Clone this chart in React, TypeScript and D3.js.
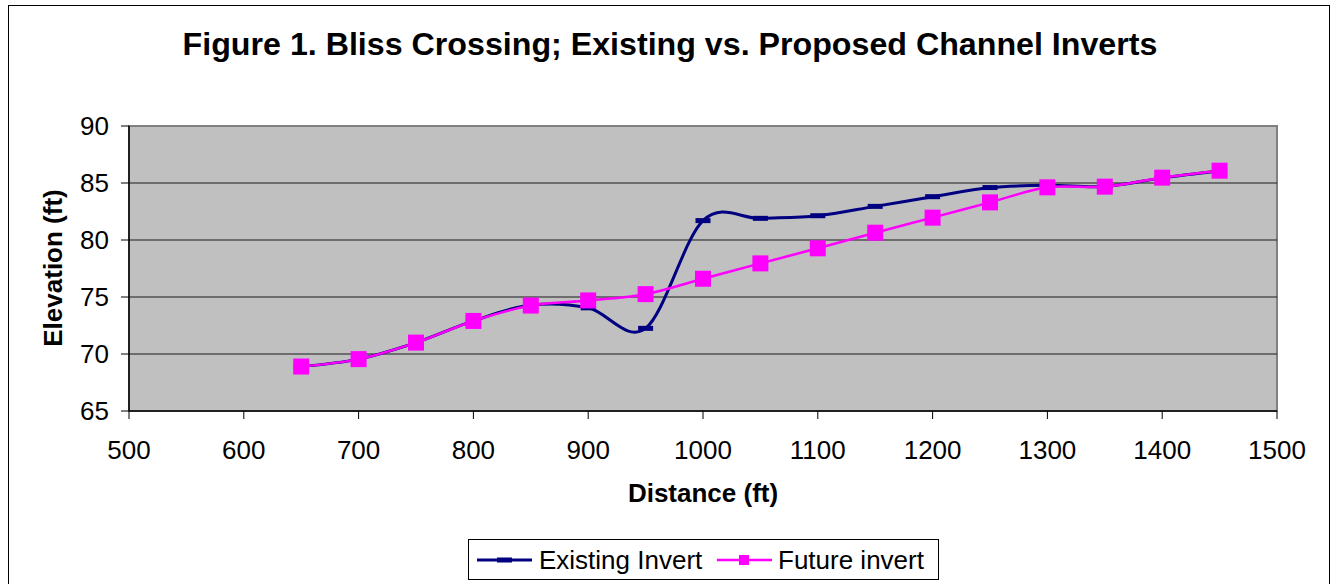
import React from "react";
import * as d3 from "d3";

const distances = [650, 700, 750, 800, 850, 900, 950, 1000, 1050, 1100, 1150, 1200, 1250, 1300, 1350, 1400, 1450];
const existingInvert = [68.9, 69.55, 71.0, 72.9, 74.3, 74.05, 72.25, 81.7, 81.9, 82.13, 82.95, 83.8, 84.6, 84.8, 84.7, 85.45, 86.05];
const futureInvert = [68.9, 69.55, 71.0, 72.9, 74.25, 74.7, 75.25, 76.6, 77.95, 79.27, 80.64, 81.96, 83.3, 84.62, 84.68, 85.47, 86.08];
const xTicks = [500, 600, 700, 800, 900, 1000, 1100, 1200, 1300, 1400, 1500];
const yTicks = [65, 70, 75, 80, 85, 90];

const TITLE = "Figure 1. Bliss Crossing; Existing vs. Proposed Channel Inverts";
const FONT = "Liberation Sans, Arial, sans-serif";

export default function App() {
  const W = 1333, H = 584;
  const L = 129, R = 1277, T = 126, B = 411;
  const x = d3.scaleLinear().domain([500, 1500]).range([L, R]);
  const y = d3.scaleLinear().domain([65, 90]).range([B, T]);
  const line = d3
    .line<number>()
    .x((_, i) => x(distances[i]))
    .y((d) => y(d))
    .curve(d3.curveCardinal.tension(0));

  return (
    <svg
      width={W}
      height={H}
      style={{ position: "absolute", left: 0, top: 0, fontFamily: FONT }}
    >
      <rect x={0} y={0} width={W} height={H} fill="#fff" />
      <rect x={8.5} y={5.5} width={1321} height={590} fill="#fff" stroke="#000" strokeWidth={1} />
      <text x={670} y={55} textAnchor="middle" fontSize={32.2} fontWeight="bold" fill="#000">
        {TITLE}
      </text>
      {/* plot area */}
      <rect x={L} y={T} width={R - L} height={B - T} fill="#C0C0C0" stroke="#808080" strokeWidth={2} />
      {yTicks.slice(1, -1).map((t) => (
        <line key={t} x1={L} x2={R} y1={y(t)} y2={y(t)} stroke="#1a1a1a" strokeWidth={1} />
      ))}
      {/* axes */}
      <line x1={L} x2={L} y1={T} y2={B} stroke="#000" strokeWidth={1.5} />
      <line x1={L} x2={R} y1={B} y2={B} stroke="#000" strokeWidth={1.5} />
      {yTicks.map((t) => (
        <g key={t}>
          <line x1={L - 8} x2={L} y1={y(t)} y2={y(t)} stroke="#000" strokeWidth={1} />
          <text x={L - 20} y={y(t) + 9} textAnchor="end" fontSize={26} fill="#000">
            {t}
          </text>
        </g>
      ))}
      {xTicks.map((t) => (
        <g key={t}>
          <line x1={x(t)} x2={x(t)} y1={B} y2={B + 8} stroke="#000" strokeWidth={1} />
          <text x={x(t)} y={459} textAnchor="middle" fontSize={26} fill="#000">
            {t}
          </text>
        </g>
      ))}
      <text x={703} y={502} textAnchor="middle" fontSize={26} fontWeight="bold" fill="#000">
        Distance (ft)
      </text>
      <text
        transform={`translate(62,268) rotate(-90)`}
        textAnchor="middle"
        fontSize={26}
        fontWeight="bold"
        fill="#000"
      >
        Elevation (ft)
      </text>
      {/* series */}
      <path d={line(existingInvert) || ""} fill="none" stroke="#000080" strokeWidth={3} />
      {existingInvert.map((v, i) => (
        <rect key={i} x={x(distances[i]) - 7.5} y={y(v) - 2.5} width={15} height={5} fill="#000080" />
      ))}
      <path d={line(futureInvert) || ""} fill="none" stroke="#FF00FF" strokeWidth={2.5} />
      {futureInvert.map((v, i) => (
        <rect key={i} x={x(distances[i]) - 8} y={y(v) - 8} width={16} height={16} fill="#FF00FF" />
      ))}
      {/* legend */}
      <rect x={468.5} y={539.5} width={470} height={40} fill="#fff" stroke="#000" strokeWidth={1} />
      <line x1={477} x2={532} y1={560} y2={560} stroke="#000080" strokeWidth={3} />
      <rect x={497} y={557.5} width={15} height={5} fill="#000080" />
      <text x={539} y={569} fontSize={26} fill="#000">Existing Invert</text>
      <line x1={717} x2={772} y1={560} y2={560} stroke="#FF00FF" strokeWidth={2.5} />
      <rect x={739} y={555} width={10} height={10} fill="#FF00FF" />
      <text x={778} y={569} fontSize={26} fill="#000">Future invert</text>
    </svg>
  );
}
